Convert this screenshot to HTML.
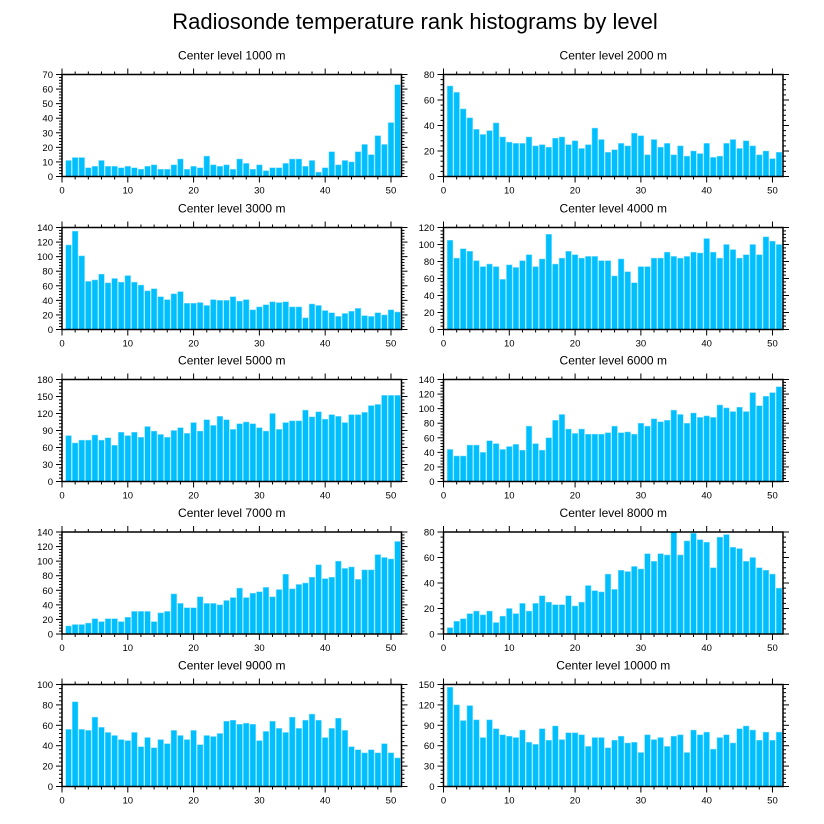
<!DOCTYPE html>
<html><head><meta charset="utf-8"><style>
html,body{margin:0;padding:0;background:#fff;}
svg{display:block;font-family:"Liberation Sans",sans-serif;}
</style></head><body>
<svg id="chart" width="824" height="824" viewBox="0 0 824 824" xmlns="http://www.w3.org/2000/svg">
<rect width="824" height="824" fill="#fff"/>
<text x="415" y="29" font-size="22" text-anchor="middle" fill="#000">Radiosonde temperature rank histograms by level</text>
</svg>
<script>
const panelTitles = ["Center level 1000 m","Center level 2000 m","Center level 3000 m","Center level 4000 m","Center level 5000 m","Center level 6000 m","Center level 7000 m","Center level 8000 m","Center level 9000 m","Center level 10000 m"];
const yMaxes = [70,80,140,120,180,140,140,80,100,150];
const yStepsMajor = [10,20,20,20,30,20,20,20,20,30];
const xTicks = [0,10,20,30,40,50];
const v1000 = [11,13,13,6,7,11,7,7,6,7,6,5,7,8,5,5,8,12,5,7,6,14,8,7,8,5,12,9,5,8,4,6,6,9,12,12,7,11,3,6,17,8,11,10,17,22,15,28,22,37,63];
const v2000 = [71,66,53,46,37,33,36,42,31,27,26,26,31,24,25,23,30,31,25,28,22,25,38,29,19,21,26,24,34,32,17,29,23,26,17,24,16,20,18,26,15,16,26,29,22,28,24,17,20,14,19];
const v3000 = [116,135,101,66,68,76,64,70,65,74,65,61,53,56,45,41,49,52,36,36,37,33,41,40,40,45,39,41,27,31,34,38,37,38,31,31,16,35,33,26,23,18,22,25,29,19,18,23,20,27,24];
const v4000 = [105,84,95,92,81,74,77,74,59,76,73,81,88,74,83,112,77,84,92,88,84,86,86,81,81,63,83,68,55,74,74,84,84,91,86,84,86,91,90,107,91,84,100,94,84,88,100,88,109,104,100];
const v5000 = [81,68,73,73,82,73,77,64,87,81,87,78,97,89,83,78,90,95,85,104,89,109,99,115,109,92,102,105,102,95,89,120,92,104,107,107,126,114,123,110,118,115,104,118,118,122,134,136,152,152,152];
const v6000 = [44,35,35,50,50,40,56,52,44,48,51,43,76,52,43,60,84,92,72,66,72,65,65,65,67,76,67,68,65,80,76,86,82,84,98,92,80,94,88,90,88,105,101,96,102,96,122,104,117,122,130];
const v7000 = [11,13,13,15,21,17,21,21,17,23,31,31,31,17,29,31,55,42,36,36,51,42,42,40,46,50,63,50,56,58,64,51,61,82,62,68,70,78,95,76,78,100,90,92,75,88,88,109,105,103,127];
const v8000 = [5,10,12,16,18,15,18,9,14,20,16,24,18,24,30,25,23,23,30,22,25,38,34,33,47,35,50,49,53,51,63,57,63,62,80,62,73,79,74,72,52,76,78,68,67,57,60,52,50,47,36];
const v9000 = [56,83,56,55,68,58,53,50,46,45,53,39,48,38,46,42,55,50,46,55,41,50,49,52,64,65,61,62,61,45,54,64,57,53,68,57,65,71,65,48,57,67,55,39,36,33,36,33,42,33,28];
const v10000 = [146,120,97,119,98,72,98,85,76,74,72,83,65,62,85,68,89,69,79,79,76,59,72,72,57,68,74,64,65,50,76,69,72,59,74,76,50,83,76,80,55,72,76,64,85,89,83,68,80,68,80];
const seriesList = [v1000,v2000,v3000,v4000,v5000,v6000,v7000,v8000,v9000,v10000];
const levelNames = ["1000","2000","3000","4000","5000","6000","7000","8000","9000","10000"];

const NS="http://www.w3.org/2000/svg";
const svg=document.getElementById('chart');
const XMAX=51.6, PW=339.5, PH=102;
const lefts=[62,443.5], tops=[74.5,227.5,379.5,532,684.5];
function mk(tag,attrs,parent){const e=document.createElementNS(NS,tag);for(const k in attrs)e.setAttribute(k,attrs[k]);parent.appendChild(e);return e;}

seriesList.forEach((vals,p)=>{
  const x0=lefts[p%2], y0=tops[Math.floor(p/2)];
  const ymax=yMaxes[p], step=yStepsMajor[p];
  const sx=v=>x0+v/XMAX*PW;
  const sy=v=>y0+PH-v/ymax*PH;
  const g=mk('g',{},svg);
  
  
  const t=mk('text',{x:x0+PW/2,y:y0-15,'font-size':12,'text-anchor':'middle',fill:'#000'},g);
  t.textContent=panelTitles[p];
  
  
  vals.forEach((v,i)=>{
    const c=i+1;
    const r=mk('rect',{x:sx(c-0.43),y:sy(v),width:sx(c+0.43)-sx(c-0.43),height:sy(0)-sy(v),fill:'#00bfff',stroke:'#7fdcff','stroke-width':0.5},g);
    
    
  });
  const frame=mk('rect',{x:x0,y:y0,width:PW,height:PH,fill:'none',stroke:'#000','stroke-width':1.5},g);
  
  
  for(let m=0;m<=51;m+=2){
    const maj=m%10===0, len=maj?6:3;
    const X=sx(m);
    mk('line',{x1:X,x2:X,y1:y0,y2:y0-len,stroke:'#000','stroke-width':1},g);
    mk('line',{x1:X,x2:X,y1:y0+PH,y2:y0+PH+len,stroke:'#000','stroke-width':1},g);
  }
  xTicks.forEach(tk=>{
    const tl=mk('text',{x:sx(tk),y:y0+PH+17,'font-size':9.5,'text-anchor':'middle',fill:'#000'},g);
    tl.textContent=tk;
    
    
  });
  const minor=step/5;
  for(let k=0;k<=ymax/minor+0.001;k++){
    const v=k*minor, maj=Math.abs(v/step-Math.round(v/step))<1e-6, len=maj?6:3;
    const Y=sy(v);
    mk('line',{x1:x0,x2:x0-len,y1:Y,y2:Y,stroke:'#000','stroke-width':1},g);
    mk('line',{x1:x0+PW,x2:x0+PW+len,y1:Y,y2:Y,stroke:'#000','stroke-width':1},g);
    if(maj){
      const tl=mk('text',{x:x0-9,y:Y+3.5,'font-size':9.5,'text-anchor':'end',fill:'#000'},g);
      tl.textContent=Math.round(v);
      
      
    }
  }
});
</script>
</body></html>
